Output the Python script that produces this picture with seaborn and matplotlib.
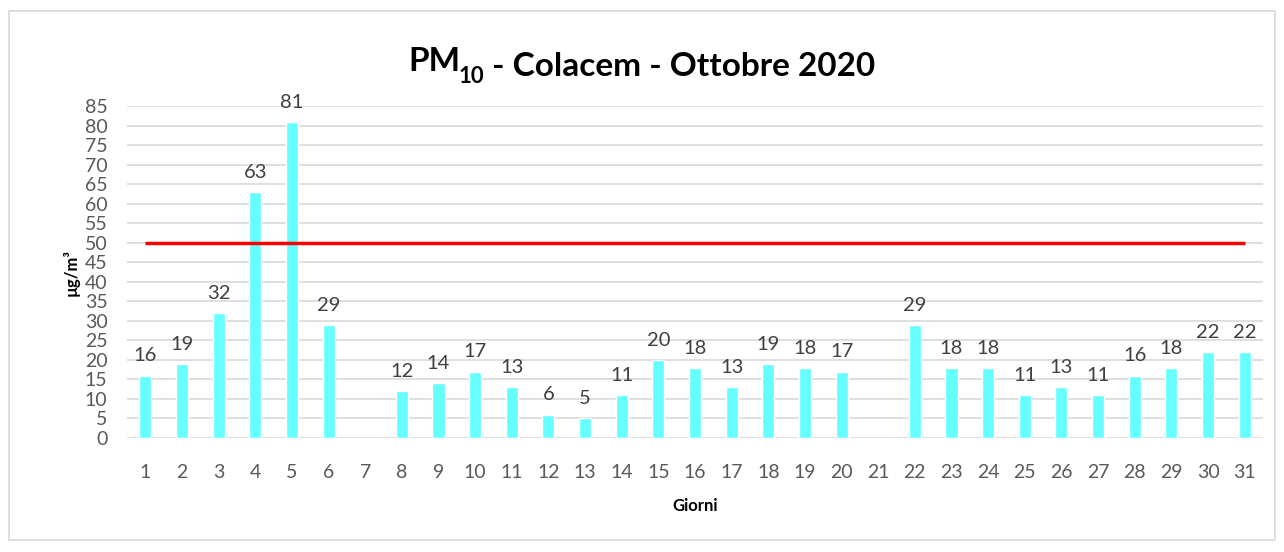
import numpy as np
import pandas as pd
import matplotlib
matplotlib.use("Agg")
import matplotlib.pyplot as plt
from matplotlib.patches import Rectangle
from matplotlib.text import Annotation
import seaborn as sns

giorni = [str(d) for d in range(1, 32)]
pm10 = [16, 19, 32, 63, 81, 29, np.nan, 12, 14, 17, 13, 6, 5, 11, 20, 18,
        13, 19, 18, 17, np.nan, 29, 18, 18, 11, 13, 11, 16, 18, 22, 22]
limite = 50

sns.set_theme(style="white")
plt.rcParams['font.family'] = ['Lato', 'DejaVu Sans']

df = pd.DataFrame({'Giorni': giorni, 'PM10': pm10})

fig = plt.figure(figsize=(12.84, 5.52), dpi=100)
fig.patches.append(Rectangle((9 / 1284, 12 / 552), 1266 / 1284, 529 / 552,
                             transform=fig.transFigure, fill=False,
                             edgecolor='#D9D9D9', linewidth=1.2))
ax = fig.add_axes([127 / 1284, 114 / 552, 1136 / 1284, 332 / 552])

sns.barplot(data=df, x='Giorni', y='PM10', order=giorni, color='#66FFFF',
            saturation=1, width=0.33, ax=ax, zorder=2)
ax.hlines(limite, 0, 30, color='#FF0000', linewidth=2.5, zorder=3)

for i, v in enumerate(pm10):
    if not np.isnan(v):
        ax.annotate(f"{int(v)}", (i, v), xytext=(0, 8), textcoords='offset points',
                    ha='center', va='bottom', fontsize=14.5, color='#404040')

ax.set_xlim(-0.5, 30.5)
ax.set_ylim(0, 85)
ax.set_yticks(range(0, 86, 5))
ax.yaxis.grid(True, color='#D9D9D9', linewidth=1.2, zorder=0)
ax.set_axisbelow(True)
for s in ax.spines.values():
    s.set_visible(False)
ax.tick_params(axis='both', length=0, labelsize=14, labelcolor='#595959')
ax.tick_params(axis='x', pad=19)
ax.tick_params(axis='y', pad=14)

ax.set_xlabel('Giorni', fontsize=12, fontweight='bold', color='#000000', labelpad=12)
ax.set_ylabel('µg/m³', fontsize=12, fontweight='bold', color='#000000', labelpad=4)

# title in three pieces so the subscript stays bold
t1 = fig.text(0.3, 0.872, 'PM', ha='left', va='baseline', fontsize=24,
              fontweight='bold', color='#000000')
t2 = fig.add_artist(Annotation(
    '10', xy=(1, 0), xycoords=t1, xytext=(-1.5, -5), textcoords='offset points',
    ha='left', va='baseline', fontsize=16, fontweight='bold', color='#000000'))
t3 = fig.add_artist(Annotation(
    ' - Colacem - Ottobre 2020', xy=(1, 0), xycoords=(t2, t1), xytext=(0, 0),
    textcoords='offset points', ha='left', va='baseline', fontsize=24,
    fontweight='bold', color='#000000'))
fig.canvas.draw()
r = fig.canvas.get_renderer()
width = t3.get_window_extent(r).x1 - t1.get_window_extent(r).x0
t1.set_x((1284 - width) / 2 / 1284)

fig.savefig('out.png', dpi=100)
